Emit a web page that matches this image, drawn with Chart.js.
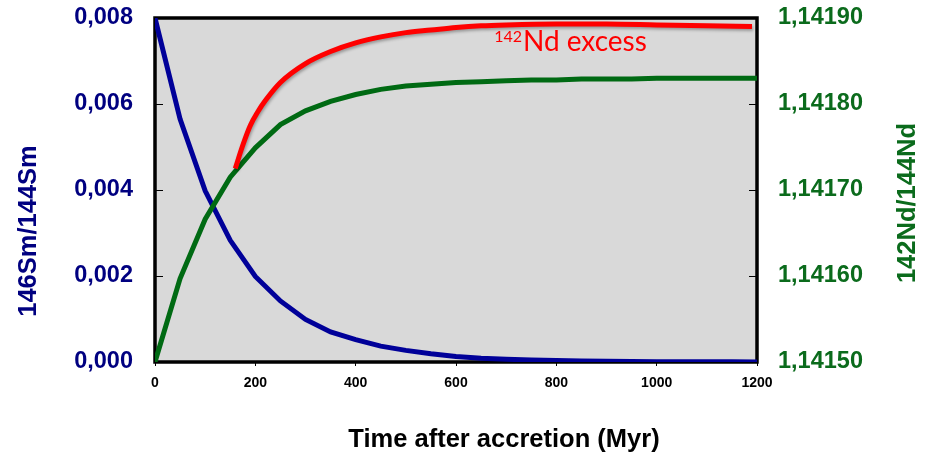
<!DOCTYPE html>
<html>
<head>
<meta charset="utf-8">
<script src="https://cdn.jsdelivr.net/npm/chart.js@4.4.1/dist/chart.umd.min.js"></script>
<style>
  html, body { margin: 0; padding: 0; background: #ffffff; }
  canvas { display: block; }
</style>
</head>
<body>
<canvas id="smChart" width="930" height="456"></canvas>
<script>
// time steps (Myr)
const times = [0, 50, 100, 150, 200, 250, 300, 350, 400, 450, 500, 550, 600,
  650, 700, 750, 800, 850, 900, 950, 1000, 1050, 1100, 1150, 1200];

// 146Sm/144Sm (left axis)
const smRatio = [0.00800, 0.00565, 0.00398, 0.00283, 0.00199, 0.00142, 0.00099,
  0.00070, 0.00052, 0.00037, 0.00027, 0.00019, 0.00013, 0.00009, 0.000065,
  0.000045, 0.000032, 0.000022, 0.000016, 0.000011, 0.000008, 0.000006,
  0.000004, 0.000003, 0.000002];

// 142Nd/144Nd (right axis)
const ndRatio = [1.141500, 1.141597, 1.141666, 1.141715, 1.141749, 1.141776,
  1.141792, 1.141803, 1.141811, 1.141817, 1.141821, 1.141823, 1.141825,
  1.141826, 1.141827, 1.141828, 1.141828, 1.141829, 1.141829, 1.141829,
  1.141830, 1.141830, 1.141830, 1.141830, 1.141830];

// "142Nd excess" curve (right axis)
const excessTimes = [160, 175, 190, 205, 220, 250, 300, 350, 400, 450, 500,
  550, 600, 650, 700, 800, 900, 1000, 1100, 1190];
const excessValues = [1.141725, 1.141752, 1.141775, 1.141791, 1.141804,
  1.141825, 1.141847, 1.141861, 1.141871, 1.141878, 1.141883, 1.141886,
  1.141889, 1.141891, 1.141892, 1.141893, 1.141893, 1.141892, 1.141891,
  1.141890];

const xTicks = [0, 200, 400, 600, 800, 1000, 1200];
const leftTicks = [0, 0.002, 0.004, 0.006, 0.008];
const rightTicks = [1.1415, 1.1416, 1.1417, 1.1418, 1.1419];

const navy = "#000080";
const green = "#0b6b1c";
const sans = '"Liberation Sans", Arial, sans-serif';

const toPoints = (xs, ys) => xs.map((x, i) => ({ x: x, y: ys[i] }));

// no extra room for half labels at the ends of the axes
const noEdgePadding = (s) => {
  s.paddingTop = 0;
  s.paddingBottom = 0;
  s.paddingLeft = 0;
  s.paddingRight = 0;
};

const framePlugin = {
  id: "frame",
  beforeDatasetsDraw(chart) {
    const { ctx, chartArea: a, scales } = chart;
    ctx.save();
    ctx.fillStyle = "#d9d9d9";
    ctx.fillRect(a.left, a.top, a.right - a.left, a.bottom - a.top);
    // inward tick marks on both value axes
    ctx.strokeStyle = "#000000";
    ctx.lineWidth = 1;
    leftTicks.forEach((v) => {
      const p = Math.round(scales.y.getPixelForValue(v)) + 0.5;
      ctx.beginPath();
      ctx.moveTo(a.left, p);
      ctx.lineTo(a.left + 8, p);
      ctx.stroke();
    });
    rightTicks.forEach((v) => {
      const p = Math.round(scales.y1.getPixelForValue(v)) + 0.5;
      ctx.beginPath();
      ctx.moveTo(a.right, p);
      ctx.lineTo(a.right - 8, p);
      ctx.stroke();
    });
    ctx.lineWidth = 3.5;
    ctx.strokeRect(a.left, a.top, a.right - a.left, a.bottom - a.top);
    ctx.restore();
  },
  // soft shadow under the red curve
  beforeDatasetDraw(chart, args) {
    if (args.index !== 0) return;
    const ctx = chart.ctx;
    ctx.save();
    ctx.shadowColor = "rgba(0, 0, 0, 0.3)";
    ctx.shadowBlur = 3;
    ctx.shadowOffsetX = 1;
    ctx.shadowOffsetY = 2;
  },
  afterDatasetDraw(chart, args) {
    if (args.index !== 0) return;
    chart.ctx.restore();
  },
  afterDraw(chart) {
    const { ctx, scales } = chart;
    ctx.save();
    ctx.font = "bold 25.5px " + sans;
    ctx.textAlign = "center";
    ctx.textBaseline = "middle";

    ctx.fillStyle = "#000000";
    ctx.fillText("Time after accretion (Myr)", 504, 440);

    ctx.save();
    ctx.translate(29, 231);
    ctx.rotate(-Math.PI / 2);
    ctx.fillStyle = navy;
    ctx.fillText("146Sm/144Sm", 0, 0);
    ctx.restore();

    ctx.save();
    ctx.translate(908, 203);
    ctx.rotate(-Math.PI / 2);
    ctx.fillStyle = green;
    ctx.fillText("142Nd/144Nd", 0, 0);
    ctx.restore();

    // curve label with superscript mass number
    const lx = scales.x.getPixelForValue(676);
    const ly = scales.y1.getPixelForValue(1.141862);
    ctx.textAlign = "left";
    ctx.textBaseline = "alphabetic";
    ctx.fillStyle = "#ff0000";
    ctx.font = "16px Lato, sans-serif";
    ctx.fillText("142", lx, ly - 9);
    const w = ctx.measureText("142").width;
    ctx.font = "28px Lato, sans-serif";
    ctx.fillText("Nd excess", lx + w + 1, ly);
    ctx.restore();
  },
};

const ctx = document.getElementById("smChart").getContext("2d");
new Chart(ctx, {
  type: "line",
  data: {
    datasets: [
      {
        label: "142Nd excess",
        data: toPoints(excessTimes, excessValues),
        yAxisID: "y1",
        borderColor: "#ff0000",
        borderWidth: 5,
        pointRadius: 0,
        cubicInterpolationMode: "monotone",
        order: 0,
      },
      {
        label: "142Nd/144Nd",
        data: toPoints(times, ndRatio),
        yAxisID: "y1",
        borderColor: "#006a13",
        borderWidth: 5,
        pointRadius: 0,
        tension: 0,
        order: 1,
      },
      {
        label: "146Sm/144Sm",
        data: toPoints(times, smRatio),
        yAxisID: "y",
        borderColor: "#000099",
        borderWidth: 5,
        pointRadius: 0,
        tension: 0,
        order: 2,
      },
    ],
  },
  options: {
    responsive: false,
    animation: false,
    layout: { padding: { top: 18, left: 0, right: 0, bottom: 0 } },
    plugins: {
      legend: { display: false },
      tooltip: { enabled: false },
    },
    scales: {
      x: {
        type: "linear",
        min: 0,
        max: 1200,
        afterFit: (s) => { noEdgePadding(s); s.height = 94; },
        afterBuildTicks: (s) => { s.ticks = xTicks.map((v) => ({ value: v })); },
        border: { display: false },
        grid: {
          drawOnChartArea: false,
          drawTicks: true,
          tickLength: 4,
          color: "#000000",
        },
        ticks: {
          padding: 9,
          maxRotation: 0,
          color: "#000000",
          font: { family: sans, size: 14, weight: "bold" },
          callback: (v) => String(v),
        },
      },
      y: {
        position: "left",
        min: 0,
        max: 0.008,
        afterFit: (s) => { noEdgePadding(s); s.width = 155; },
        afterBuildTicks: (s) => { s.ticks = leftTicks.map((v) => ({ value: v })); },
        border: { display: false },
        grid: { display: false, drawTicks: false },
        ticks: {
          padding: 22,
          color: navy,
          font: { family: sans, size: 23.5, weight: "bold" },
          callback: (v) => v.toFixed(3).replace(".", ","),
        },
      },
      y1: {
        position: "right",
        min: 1.1415,
        max: 1.1419,
        afterFit: (s) => { noEdgePadding(s); s.width = 173; },
        afterBuildTicks: (s) => { s.ticks = rightTicks.map((v) => ({ value: v })); },
        border: { display: false },
        grid: { display: false, drawTicks: false },
        ticks: {
          padding: 21,
          color: green,
          font: { family: sans, size: 23.5, weight: "bold" },
          callback: (v) => v.toFixed(5).replace(".", ","),
        },
      },
    },
  },
  plugins: [framePlugin],
});
</script>
</body>
</html>
